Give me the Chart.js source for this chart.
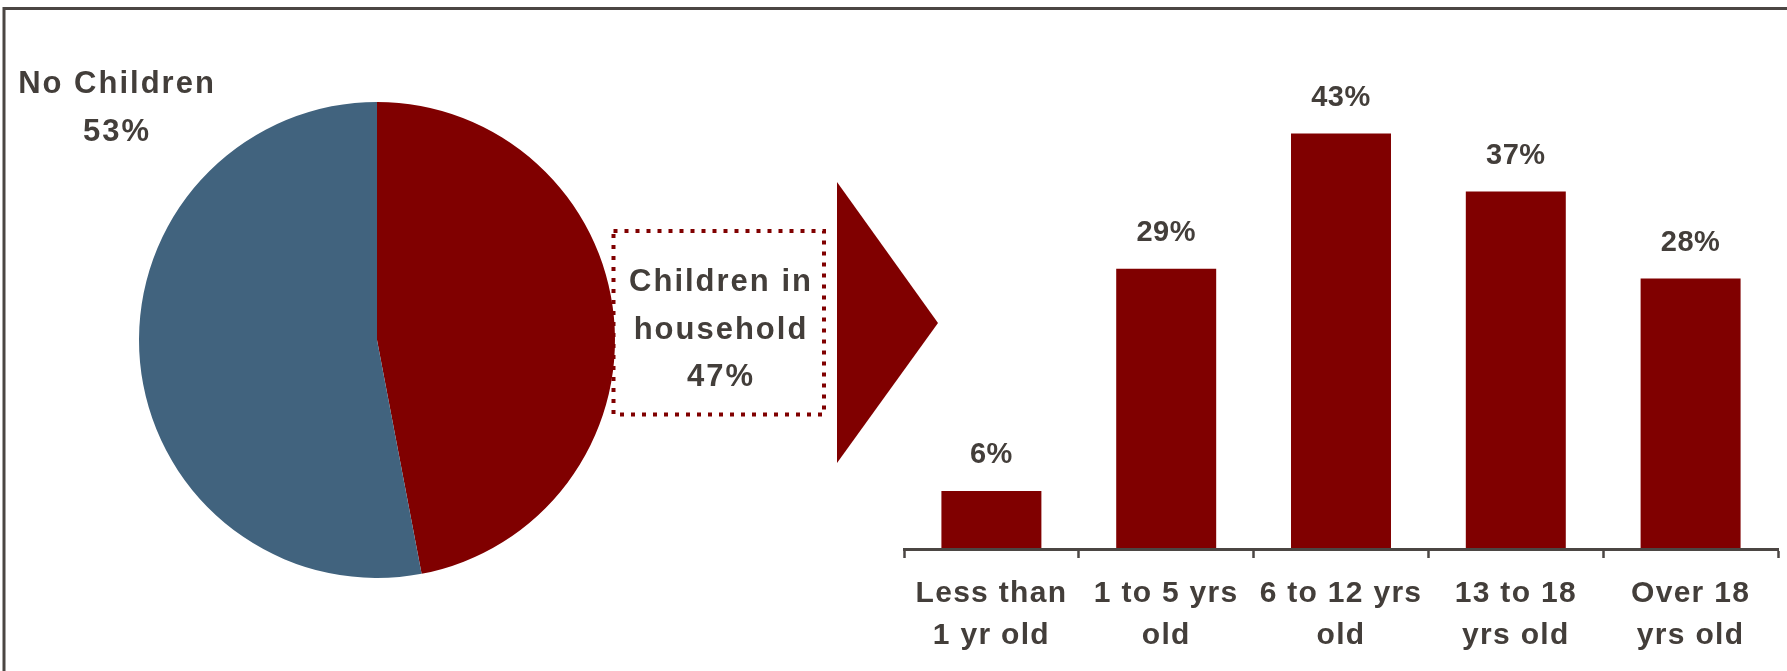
<!DOCTYPE html>
<html lang="en">
<head>
<meta charset="UTF-8">
<title>Children in household</title>
<script src="https://cdn.jsdelivr.net/npm/chart.js@4.4.1/dist/chart.umd.min.js"></script>
<style>
  html, body { margin: 0; padding: 0; background: #fff; }
  #stage { position: relative; width: 1787px; height: 671px; overflow: hidden; }
  #stage canvas, #stage svg { position: absolute; }
  #pieCanvas { left: 0; top: 0; }
  #barCanvas { left: 860px; top: 0; }
</style>
</head>
<body>
<div id="stage">
  <svg width="1787" height="671" style="left:0;top:0">
    <!-- frame, dotted call-out box and arrow -->
    <path d="M4 671 V8.5 H1787" fill="none" stroke="#4b4643" stroke-width="3"/>
    <rect x="613.5" y="231" width="210.5" height="183.5" fill="none" stroke="#800000" stroke-width="4" stroke-dasharray="4 7"/>
    <polygon points="837,182 837,463 938,323" fill="#800000"/>
  </svg>
  <canvas id="pieCanvas" width="850" height="671"></canvas>
  <canvas id="barCanvas" width="927" height="672"></canvas>
</div>

<script>
  // pie: share of households
  const pieLabels = [['Children in', 'household'], ['No Children']];
  const pieValues = [47, 53];
  const pieColors = ['#800000', '#41637e'];

  // bars: age of children
  const barLabels = [
    ['Less than', '1 yr old'],
    ['1 to 5 yrs', 'old'],
    ['6 to 12 yrs', 'old'],
    ['13 to 18', 'yrs old'],
    ['Over 18', 'yrs old']
  ];
  const barValues = [6, 29, 43, 37, 28];

  const textColor = '#433e3a';
  const fontFamily = '"Liberation Sans", Arial, sans-serif';

  // labels for the two slices, placed like the original call-outs
  const pieLabelPlugin = {
    id: 'pieLabelPlugin',
    afterDraw(chart, args, opts) {
      const ctx = chart.ctx;
      ctx.save();
      ctx.font = 'bold 31px ' + fontFamily;
      ctx.fillStyle = textColor;
      ctx.textAlign = 'center';
      ctx.textBaseline = 'alphabetic';
      ctx.letterSpacing = '2px';
      opts.spots.forEach((spot, i) => {
        const lines = pieLabels[i].concat([pieValues[i] + '%']);
        lines.forEach((line, j) => {
          ctx.fillText(line, spot.x, spot.y + j * 47.5);
        });
      });
      ctx.restore();
    }
  };

  new Chart(document.getElementById('pieCanvas'), {
    type: 'pie',
    data: {
      labels: pieLabels,
      datasets: [{
        data: pieValues,
        backgroundColor: pieColors,
        borderWidth: 0
      }]
    },
    options: {
      responsive: false,
      animation: false,
      layout: { padding: { left: 139, right: 235, top: 102, bottom: 93 } },
      plugins: {
        legend: { display: false },
        tooltip: { enabled: false },
        pieLabelPlugin: {
          spots: [{ x: 721, y: 291 }, { x: 117, y: 93 }]
        }
      }
    },
    plugins: [pieLabelPlugin]
  });

  const spacingPlugin = {
    id: 'spacingPlugin',
    beforeLayout(chart) { chart.ctx.letterSpacing = '1.3px'; },
    beforeDraw(chart) { chart.ctx.letterSpacing = '1.3px'; }
  };

  const valueLabels = {
    id: 'valueLabels',
    afterDatasetsDraw(chart) {
      const ctx = chart.ctx;
      const meta = chart.getDatasetMeta(0);
      ctx.save();
      ctx.font = 'bold 29px ' + fontFamily;
      ctx.fillStyle = textColor;
      ctx.textAlign = 'center';
      ctx.textBaseline = 'alphabetic';
      ctx.letterSpacing = '0.5px';
      meta.data.forEach((bar, i) => {
        ctx.fillText(barValues[i] + '%', bar.x, bar.y - 28);
      });
      ctx.restore();
    }
  };

  new Chart(document.getElementById('barCanvas'), {
    type: 'bar',
    data: {
      labels: barLabels,
      datasets: [{
        data: barValues,
        backgroundColor: '#800000',
        categoryPercentage: 1,
        barPercentage: 0.572
      }]
    },
    options: {
      responsive: false,
      animation: false,
      layout: { padding: { left: 44, right: 9, top: 66, bottom: 0 } },
      plugins: {
        legend: { display: false },
        tooltip: { enabled: false }
      },
      scales: {
        x: {
          offset: true,
          grid: {
            display: true,
            offset: true,
            drawOnChartArea: false,
            drawTicks: true,
            tickLength: 9,
            tickWidth: 2.5,
            tickColor: '#4b4643',
            z: 1
          },
          border: { display: true, color: '#4b4643', width: 3, z: 1 },
          ticks: {
            color: textColor,
            font: { family: fontFamily, size: 30, weight: 'bold', lineHeight: 1.4 },
            padding: 15,
            maxRotation: 0,
            autoSkip: false
          }
        },
        y: { display: false, min: 0, max: 50 }
      }
    },
    plugins: [spacingPlugin, valueLabels]
  });
</script>
</body>
</html>
